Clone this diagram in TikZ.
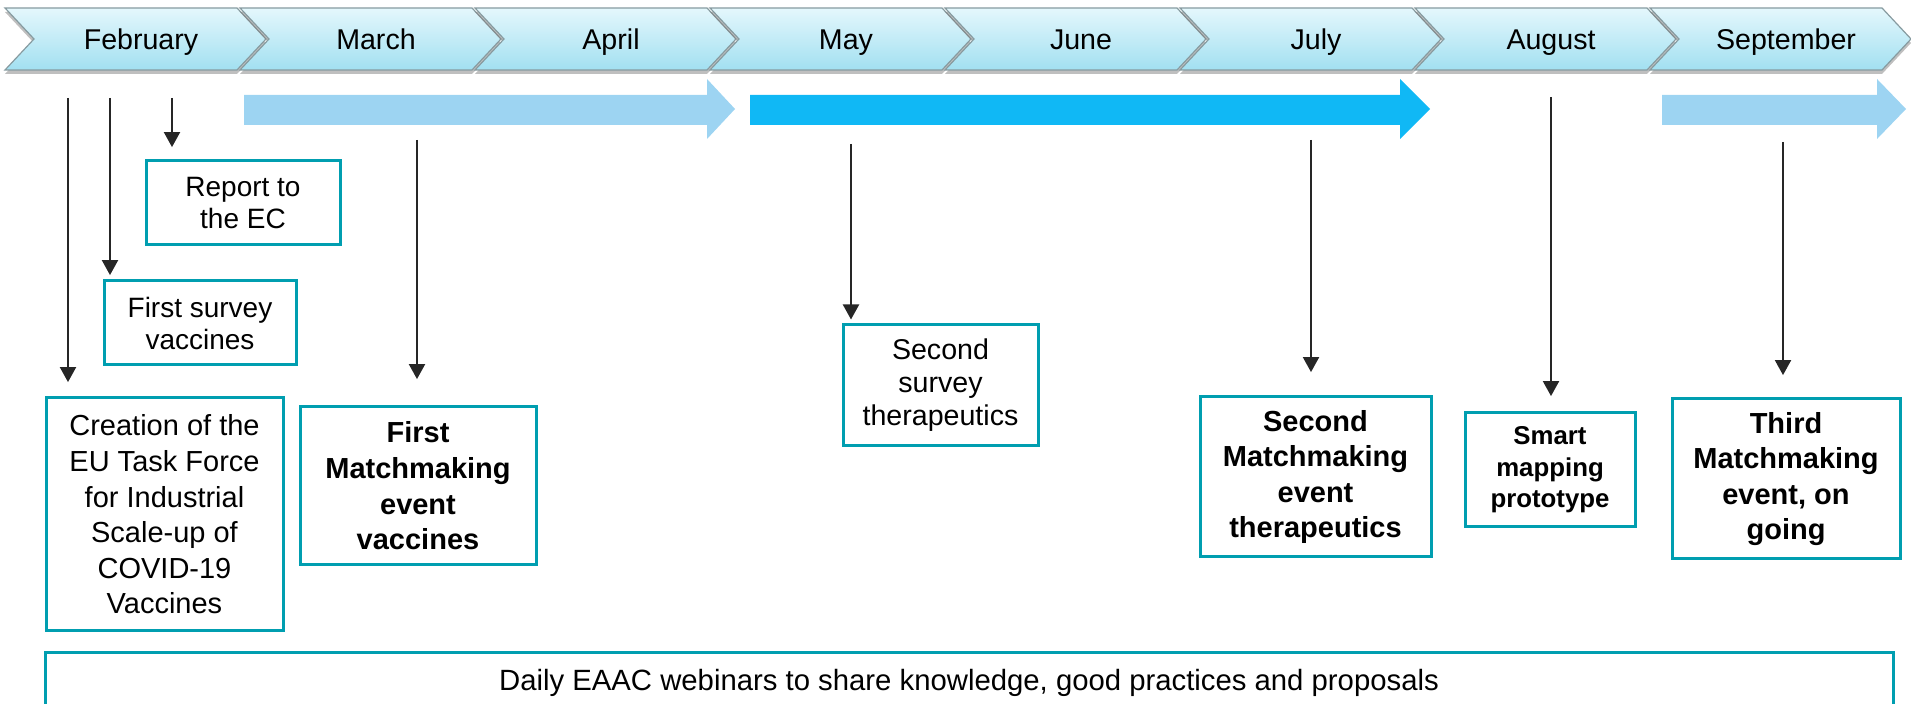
\documentclass[tikz,border=0pt]{standalone}
\usepackage{fontspec}
\setmainfont{Liberation Sans}
\usetikzlibrary{arrows.meta,shadows}
\definecolor{boxteal}{RGB}{0,158,176}
\definecolor{lightband}{RGB}{157,212,242}
\definecolor{brightband}{RGB}{16,184,245}
\definecolor{chevtop}{RGB}{228,247,252}
\definecolor{chevbot}{RGB}{162,224,241}
\definecolor{chevline}{RGB}{135,155,160}
\definecolor{tickgray}{RGB}{38,38,38}
\tikzset{
  chevron/.style={draw=chevline, line width=0.6pt, top color=chevtop, bottom color=chevbot,
    drop shadow={opacity=0.5, shadow xshift=0pt, shadow yshift=-2pt}},
  month/.style={anchor=base, font=\fontsize{14.3}{17}\selectfont},
  evbox/.style={draw=boxteal, line width=1.5pt, inner sep=0pt, align=center, font=\fontsize{14}{16}\selectfont},
  roomy/.style={font=\fontsize{14.5}{17.8}\selectfont},
  bigbold/.style={font=\fontsize{14.5}{17.8}\selectfont\bfseries},
  tick/.style={draw=tickgray, line width=1pt, -{Triangle[length=7.5pt,width=8pt]}},
}

\begin{document}
\begin{tikzpicture}[x=0.5pt, y=-0.5pt]
	\useasboundingbox (0,0) rectangle (1911,704);
	\clip (0,0) rectangle (1911,704);
	\foreach \m [count=\i from 0] in {February,March,April,May,June,July,August,September} {
		\pgfmathsetmacro\xo{5+235*\i}
		\draw[chevron] (\xo,8) -- ++(232,0) -- ++(29,31) -- ++(-29,31) -- ++(-232,0) -- ++(29,-31) -- cycle;
		\node[month] (m\i) at (\xo+136,50) {\m};
	}
	\foreach \a/\b/\c/\col in {244/707/735/lightband, 750/1400/1430/brightband, 1662/1877/1906/lightband}
		\fill[\col] (\a,95) -- (\b,95) -- (\b,79) -- (\c,109) -- (\b,139) -- (\b,125) -- (\a,125) -- cycle;
	\node[evbox, minimum width=97pt, minimum height=42pt] (report) at (243,203) {Report to\\the EC};
	\node[evbox, minimum width=96pt, minimum height=42pt] (survey1) at (200,323) {First survey\\vaccines};
	\node[evbox, roomy, minimum width=118.5pt, minimum height=116.5pt] (creation) at (164.5,514.5) {Creation of the\\EU Task Force\\for Industrial\\Scale-up of\\COVID-19\\Vaccines};
	\node[evbox, bigbold, minimum width=118pt, minimum height=79pt] (mm1) at (418,486) {First\\Matchmaking\\event\\vaccines};
	\node[evbox, font=\fontsize{14.3}{16.5}\selectfont, minimum width=97.5pt, minimum height=60.5pt] (survey2) at (940.5,385.5) {Second\\survey\\therapeutics};
	\node[evbox, bigbold, minimum width=115.5pt, minimum height=80pt] (mm2) at (1315.5,477) {Second\\Matchmaking\\event\\therapeutics};
	\node[evbox, font=\fontsize{12.9}{15.8}\selectfont\bfseries, minimum width=85pt, minimum height=57pt] (smart) at (1550,470) {Smart\\mapping\\prototype};
	\node[evbox, bigbold, minimum width=114pt, minimum height=80pt] (mm3) at (1786,479) {Third\\Matchmaking\\event, on\\going};
	\node[evbox, font=\fontsize{14.65}{17}\selectfont, text depth=0pt, minimum width=924pt, minimum height=26.5pt] (daily) at (969,679.5) {Daily EAAC webinars to share knowledge, good practices and proposals};
	\foreach \n/\x/\y in {t1/68/98, t2/110/98, t3/172/98, t4/417/140, t5/851/144, t6/1311/140, t7/1551/97, t8/1783/142}
		\coordinate (\n) at (\x,\y);
	\foreach \t/\b/\s in {t1/creation/7.2, t2/survey1/2.2, t3/report/6.2, t4/mm1/13.2, t5/survey2/2, t6/mm2/11.7, t7/smart/7.7, t8/mm3/11.2}
		\draw[tick, shorten >=\s pt] (\t) -- (\b.north -| \t);
\end{tikzpicture}
\end{document}
